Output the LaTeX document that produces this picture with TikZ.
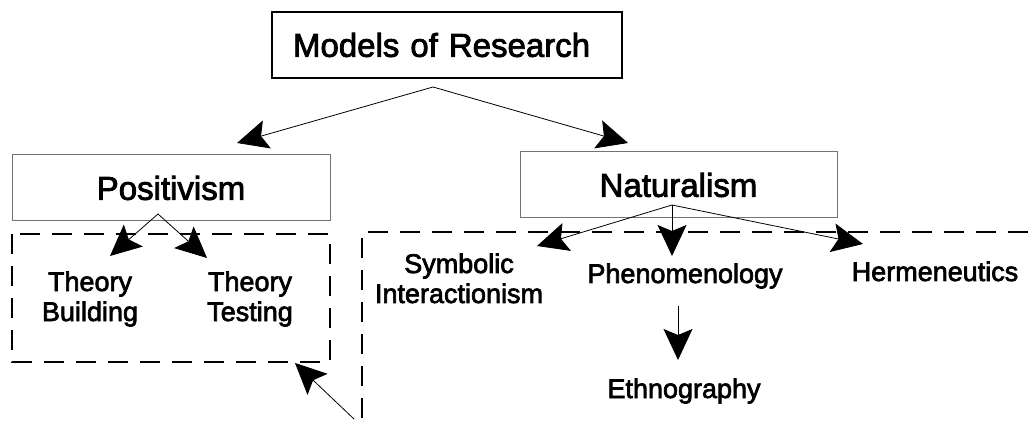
\documentclass[tikz,border=0pt]{standalone}
\usepackage{fontspec}
\setmainfont{Liberation Sans}
\newfontfamily\heavyfont{Liberation Sans}[FakeBold=2.5]
\usetikzlibrary{arrows.meta}
\begin{document}
\begin{tikzpicture}[x=1pt,y=-1pt,
  bigtxt/.style={font=\heavyfont\fontsize{33}{38}\selectfont},
  lab/.style={font=\heavyfont\fontsize{27}{30}\selectfont, align=center, anchor=base, inner sep=0pt},
  conn/.style={line width=0.8pt, -{Stealth[length=31pt,width=29pt,inset=6pt]}},
  frame/.style={line width=2pt, dash pattern=on 20pt off 12pt}]
\useasboundingbox (0,0) rectangle (1028,430);

% top boxes
\node[bigtxt, draw=black, line width=1.3pt, minimum width=350pt, minimum height=66pt,
      text width=308pt, inner xsep=21pt, inner ysep=0pt, align=left] (models) at (447,45) {Models of Research};
\node[bigtxt, draw=black!55, line width=1pt, minimum width=318pt, minimum height=66pt, inner sep=0pt] (posit) at (171,188) {Positivism};
\node[bigtxt, draw=black!55, line width=1pt, minimum width=317pt, minimum height=66pt, inner sep=0pt] (natur) at (678.5,185) {Naturalism};

% labels (base anchor = baseline of last line)
\node[lab] (tb) at (90,321) {Theory\\Building};
\node[lab] (tt) at (250,321) {Theory\\Testing};
\node[lab] (si) at (459,303) {Symbolic\\Interactionism};
\node[lab] (ph) at (685,283) {Phenomenology};
\node[lab] (he) at (935,281) {Hermeneutics};
\node[lab] (et) at (684,398) {Ethnography};

% connector points
\coordinate (mapex) at (433,87);
\coordinate (ptip) at (237,143);
\coordinate (ntip) at (628,143);
\coordinate (papex) at (158,214);
\coordinate (tbtip) at (110,256);
\coordinate (tttip) at (207,258);
\coordinate (napex) at (672,205);
\coordinate (sitip) at (537,246);
\coordinate (phtip) at (672,256);
\coordinate (hetip) at (863,244);
\coordinate (phbot) at (678,306);
\coordinate (ettip) at (678,360);
\coordinate (tail) at (354,419);
\coordinate (boxtip) at (295,363);

\draw[conn] (mapex) -- (ptip);
\draw[conn] (mapex) -- (ntip);
\draw[conn] (papex) -- (tbtip);
\draw[conn] (papex) -- (tttip);
\draw[conn] (napex) -- (sitip);
\draw[conn] (napex) -- (phtip);
\draw[conn] (napex) -- (hetip);
\draw[conn] (phbot) -- (ettip);
\draw[conn] (tail) -- (boxtip);

% dashed frames
\draw[frame] (12,234) rectangle (330,362);
\draw[frame] (1028,232) -- (362,232) -- (362,430);
\end{tikzpicture}
\end{document}
